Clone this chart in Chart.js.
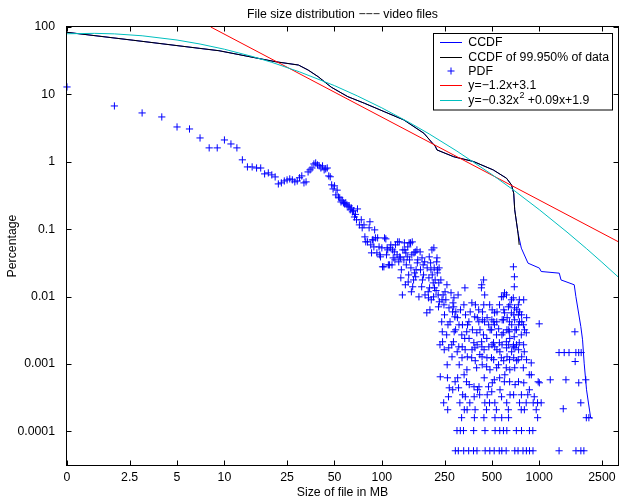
<!DOCTYPE html>
<html><head><meta charset="utf-8">
<script src="https://cdn.jsdelivr.net/npm/chart.js@4.4.0/dist/chart.umd.min.js"></script>
<style>html,body{margin:0;padding:0;background:#fff;}canvas{display:block;}</style>
</head><body>
<canvas id="c" width="623" height="499"></canvas>
<script>
// ---- tick labels ----
const xTickValues = [1, 2.5, 5, 10, 25, 50, 100, 250, 500, 1000, 2500];
const xTickLabels = ['0', '2.5', '5', '10', '25', '50', '100', '250', '500', '1000', '2500'];
const yTickValues = [0.0001, 0.001, 0.01, 0.1, 1, 10, 100];
const yTickLabels = ['0.0001', '0.001', '0.01', '0.1', '1', '10', '100'];

// ---- CCDF (all data) ----
const ccdfSize = [1, 2.63, 6.91, 9.23, 21.0, 29.5, 34.0, 39.4, 47.7, 60.8, 77.5, 103.5, 138, 185, 219, 224, 286, 382, 510, 619, 666, 688, 698, 733, 769, 848, 1002, 1028, 1340, 1374, 1667, 1708, 1836, 1883, 1928, 1996, 2053, 2122, 2183];
const ccdfPct = [83.4, 63.6, 48.3, 44.5, 30.6, 27.3, 23.0, 18.3, 12.8, 9.26, 7.39, 5.55, 4.18, 2.65, 1.68, 1.50, 1.19, 1.01, 0.758, 0.571, 0.455, 0.342, 0.194, 0.0873, 0.0524, 0.0314, 0.0265, 0.0236, 0.0223, 0.0177, 0.0150, 0.0100, 0.0036, 0.00229, 0.00103, 0.000415, 0.000264, 0.000158, 0.000158];

// ---- CCDF of 99.950% of data ----
const ccdf99Size = [1, 2.63, 6.91, 9.23, 21.0, 29.5, 34.0, 39.4, 47.7, 60.8, 77.5, 103.5, 138, 185, 219, 224, 286, 382, 510, 619, 666, 688, 698, 733, 745];
const ccdf99Pct = [83.4, 63.6, 48.3, 44.5, 30.6, 27.3, 23.0, 18.3, 12.8, 9.26, 7.39, 5.55, 4.18, 2.65, 1.68, 1.50, 1.19, 1.01, 0.758, 0.571, 0.455, 0.342, 0.194, 0.0873, 0.0586];

// ---- PDF (size in MB, percentage) ----
const pdfSize = [
  1,2,3,4,5,6,7,8,9,10,11,12,13,14,15,16,17,18,19,20,21,22,23,24,25,26,27,28,29,30,
  31,32,33,34,35,36,37,38,39,40,41,42,43,44,45,46,47,48,49,50,51,52,53,54,55,56,57,58,59,60,
  61,62,63,64,65,66,67,68,69,
  70,72,74,75,77,78,79,81,83,84,85,86,87,88,89,90,91,93,94,96,97,98,100,101,103,
  104,106,108,109,110,112,113,116,117,120,121,125,126,128,129,130,131,132,135,138,139,140,141,142,145,
  148,149,150,152,153,156,157,159,160,161,163,164,168,169,172,175,176,179,180,181,188,193,194,198,199,
  200,201,202,204,208,209,213,214,215,216,218,223,224,225,226,229,230,231,232,
  234,235,240,241,242,243,247,248,252,258,259,260,261,262,265,266,267,268,271,279,285,286,287,288,291,
  292,293,300,306,307,308,309,310,313,315,321,322,323,330,331,332,333,334,336,337,338,339,345,346,347,
  348,356,357,362,372,373,382,383,384,385,386,387,389,390,391,400,401,402,412,413,414,418,429,430,431,
  432,433,435,442,443,444,445,449,450,451,452,453,462,463,464,476,477,483,484,485,497,498,499,500,512,
  517,518,519,520,521,522,523,524,534,535,536,537,557,558,559,560,561,574,575,576,577,578,579,590,591,
  592,593,600,601,602,616,617,618,619,620,621,622,623,636,637,638,645,646,647,648,649,665,666,683,684,
  685,686,687,693,694,695,696,697,698,699,715,716,717,733,735,736,737,738,746,747,748,749,768,769,770,
  771,772,788,792,793,803,804,826,827,828,864,865,866,867,889,890,910,912,915,929,956,975,976,984,999,
  1001,1028,1174,1335,1336,1420,1440,1477,1545,1683,1690,1708,1710,1780,1781,1836,1837,1845,1920,1974,
  1990,2065
];
const pdfPct = [
  12.9,6.74,5.31,4.63,3.29,3.07,2.26,1.61,1.61,2.11,1.84,1.61,1.07,0.84,0.84,0.81,0.81,0.662,0.685,0.64,0.597,0.47,0.487,0.52,0.539,0.558,0.54,0.504,0.52,0.58,
  0.618,0.487,0.504,0.708,0.76,0.81,0.93,0.963,0.90,0.87,0.81,0.87,0.76,0.785,0.81,0.618,0.6,0.455,0.396,0.44,0.323,0.38,0.30,0.292,0.254,0.27,0.246,0.238,0.246,0.23,
  0.215,0.222,0.194,0.207,0.181,0.188,0.152,0.166,0.138,
  0.200,0.116,0.138,0.105,0.116,0.077,0.065,0.065,0.105,0.129,0.0586,0.0446,0.0695,0.0695,0.0547,0.0978,0.0744,0.0446,0.0744,0.0547,0.0417,0.0389,0.0529,0.0277,0.0277,
  0.0744,0.0719,0.0529,0.0494,0.0296,0.0296,0.0529,0.0296,0.0494,0.0461,0.0351,0.0417,0.0649,0.0328,0.0649,0.0389,0.0376,0.019,0.0106,0.0351,0.0628,0.0494,0.015,0.0446,0.0389,
  0.021,0.0628,0.0351,0.0628,0.0267,0.0649,0.014,0.0177,0.0446,0.0225,0.0461,0.0197,0.0317,0.0351,0.00993,0.0461,0.025,0.014,0.0376,0.0177,0.0106,0.00575,0.0267,0.0096,0.019,
  0.0389,0.0135,0.00637,0.0317,0.0494,0.021,0.00993,0.0529,0.0267,0.0135,0.0177,0.0328,0.0376,0.0225,0.025,0.00706,0.016,0.0267,0.00838,
  0.00193,0.000647,0.00423,0.00897,0.00301,0.00214,0.000266,0.00756,0.0118,0.00271,0.015,0.000975,0.000625,0.00021,0.000327,0.00174,0.00682,0.000444,0.00423,0.00128,0.00214,0.00706,0.0096,0.00301,0.00502,
  0.000546,0.0000517,0.000103,0.0000517,0.000444,0.0018,0.00382,0.000975,0.000266,0.000103,0.00016,0.00271,0.00124,0.000103,0.0000517,0.00756,0.000693,0.00021,0.0024,0.0135,0.00163,0.000327,0.000546,0.00301,0.000822,
  0.00021,0.0000517,0.00423,0.000266,0.00124,0.00809,0.0000517,0.000103,0.00207,0.00046,0.000327,0.00016,0.00502,0.00174,0.00021,0.00088,0.00291,0.0000517,0.00637,0.00423,0.00046,0.00035,0.0135,0.00214,0.015,
  0.0018,0.00128,0.00453,0.00271,0.0177,0.00756,0.00016,0.00423,0.0106,0.000266,0.000103,0.0000517,0.00021,0.00091,0.0024,0.00046,0.00382,0.000266,0.00756,0.0000517,0.00124,0.00322,0.000388,0.00453,0.00207,
  0.0000517,0.000584,0.00382,0.00575,0.0018,0.000266,0.00016,0.000103,0.00021,0.00271,0.00088,0.00423,0.0000517,0.00207,0.00756,0.000625,0.000103,0.00124,0.00993,0.000327,0.00016,0.0000517,0.00271,0.01,0.00291,
  0.000103,0.00453,0.000546,0.0114,0.00575,0.0000517,0.00088,0.00214,0.0106,0.00174,0.000266,0.000103,0.00322,0.00021,0.00706,0.00016,0.00301,0.00423,0.00116,0.000546,0.0024,0.00575,0.00897,0.0018,0.0096,
  0.0277,0.00193,0.00035,0.00254,0.014,0.0197,0.00682,0.00453,0.00088,0.0000517,0.000103,0.00322,0.00193,0.0000517,0.00116,0.00756,0.00537,0.000546,0.00207,0.00897,0.00423,0.000266,0.00021,0.00271,0.00035,
  0.000103,0.00537,0.0000517,0.00088,0.00382,0.00152,0.00021,0.000266,0.00291,0.0000517,0.000693,0.000415,0.000103,0.0000517,0.00104,0.000693,0.000103,0.0000517,0.000266,0.000327,0.00021,0.000266,0.00016,0.000546,0.00395,
  0.000527,0.000266,0.000584,0.00148,0.0000517,0.000217,0.00148,0.000584,0.00148,0.00301,0.00109,0.00148,0.0000517,0.00148,0.000527,0.000266,0.0000517,0.00148,0.0000517,0.000584,
  0.00016,0.00016
];
// further PDF readings from the dense core (250-850 MB)
const pdfCoreSize = [
  249,278,301,324,349,358,374,392,403,419,434,446,465,478,486,501,513,538,551,562,580,594,624,639,650,667,688,700,718,739,773,795,830,
  250,263,281,294,302,316,325,340,350,364,376,393,404,420,436,466,487,502,514,539,552,581,595,625,640,651,668,689,701,719,740,750,774,796,806,831,
  282,303,326,359,405,447,467,503,563,604,652,702,797,845
];
const pdfCorePct = [
  0.00163,0.00193,0.00152,0.0018,0.00128,0.0024,0.00163,0.00112,0.00193,0.00138,0.000975,0.00163,0.00124,0.0018,0.000822,0.00193,0.00116,0.00163,0.000975,0.00152,0.00193,0.00112,0.00128,0.00193,0.000822,0.00152,0.00124,0.00174,0.00112,0.00163,0.00128,0.00193,0.00116,
  0.00537,0.00382,0.00594,0.00322,0.00487,0.00637,0.00382,0.00537,0.00382,0.00594,0.00322,0.00756,0.00487,0.00322,0.00594,0.00487,0.00322,0.00637,0.00423,0.00594,0.00333,0.00453,0.00637,0.00487,0.00322,0.00756,0.00382,0.00537,0.00322,0.00637,0.00382,0.00594,0.00423,0.00897,0.00322,0.00487,
  0.000415,0.000625,0.00035,0.000495,0.000415,0.000625,0.00035,0.000527,0.000415,0.000693,0.00035,0.000495,0.000527,0.00035
];
// further PDF readings from the falling band (100-310 MB)
const pdfBandSize = [
  107,114,118,122,133,136,143,146,147,154,155,165,167,183,184,187,197,205,206,212,221,228,237,245,255,275,283,295,305
];
const pdfBandPct = [
  0.0417,0.0586,0.0376,0.0586,0.025,0.0494,0.0296,0.0547,0.0165,0.0118,0.0417,0.025,0.0494,0.0296,0.021,0.0328,0.0118,0.025,0.00897,0.016,0.0123,0.0106,0.0177,0.0106,0.00897,0.0114,0.00809,0.00594,0.0106
];

// ---- fitted curves, values ----
const fit1Size = [8.19, 3162.28];
const fit1Pct = [100, 0.0656];
const fit2Size = [1, 1.5, 2, 3, 5, 7, 10, 15, 20, 30, 50, 70, 100, 150, 200, 300, 500, 700, 1000, 1500, 2000, 2500, 3162.28];
const fit2Pct = [79.4, 80.5, 79.1, 74.1, 64.1, 55.9, 46.8, 36.6, 29.9, 21.6, 13.5, 9.48, 6.31, 3.81, 2.59, 1.44, 0.648, 0.368, 0.195, 0.0907, 0.0513, 0.0324, 0.0197];

const seriesNames = ['CCDF', 'CCDF of 99.950% of data', 'PDF', 'y=\u22121.2x+3.1', 'y=\u22120.32x2 +0.09x+1.9'];
const titleText = 'File size distribution \u2212\u2212\u2212 video files';
const xTitle = 'Size of file in MB';
const yTitle = 'Percentage';

const FONT = '"Liberation Sans", Arial, Helvetica, sans-serif';
const FS = 12.3;
const pts = (xs, ys) => xs.map((x, i) => ({x: x, y: ys[i]}));

const decor = {
  id: 'decor',
  afterDraw(chart) {
    const ctx = chart.ctx, a = chart.chartArea;
    const xs = chart.scales.x, ys = chart.scales.y;
    ctx.save();
    ctx.strokeStyle = '#000';
    ctx.lineWidth = 1;
    const L = Math.round(a.left) - 0.5, R = Math.round(a.right) + 0.5;
    const T = Math.round(a.top) - 0.5, B = Math.round(a.bottom) + 0.5;
    ctx.strokeRect(L, T, R - L, B - T);
    ctx.beginPath();
    xTickValues.forEach(v => {
      const p = Math.round(xs.getPixelForValue(v)) + 0.5;
      ctx.moveTo(p, B); ctx.lineTo(p, B - 5);
      ctx.moveTo(p, T); ctx.lineTo(p, T + 5);
    });
    yTickValues.forEach(v => {
      const p = Math.round(ys.getPixelForValue(v)) + 0.5;
      ctx.moveTo(L, p); ctx.lineTo(L + 5, p);
      ctx.moveTo(R, p); ctx.lineTo(R - 5, p);
    });
    ctx.stroke();

    // titles
    ctx.fillStyle = '#000';
    ctx.font = FS + 'px ' + FONT;
    ctx.textAlign = 'center';
    ctx.textBaseline = 'alphabetic';
    const cx = (a.left + a.right) / 2;
    ctx.fillText(titleText, cx, 17.5);
    ctx.fillText(xTitle, cx, 495.5);
    ctx.save();
    ctx.translate(16.3, (a.top + a.bottom) / 2);
    ctx.rotate(-Math.PI / 2);
    ctx.fillText(yTitle, 0, 0);
    ctx.restore();

    // legend
    const bx = 433.5, by = 33.5, bw = 179, bh = 76.5;
    ctx.fillStyle = '#fff';
    ctx.fillRect(bx, by, bw, bh);
    ctx.strokeStyle = '#000';
    ctx.strokeRect(bx, by, bw, bh);
    const rows = [42.3, 56.7, 71, 85.3, 99.8];
    const cols = ['#0000ff', '#000000', '#0000ff', '#ff0000', '#00bfbf'];
    ctx.textAlign = 'left';
    ctx.textBaseline = 'middle';
    rows.forEach((ry, i) => {
      ctx.strokeStyle = cols[i];
      ctx.lineWidth = 1;
      ctx.beginPath();
      if (i === 2) {
        ctx.moveTo(451, ry - 3.5); ctx.lineTo(451, ry + 3.5);
        ctx.moveTo(447.5, ry); ctx.lineTo(454.5, ry);
      } else {
        ctx.moveTo(440, Math.round(ry) + 0.5); ctx.lineTo(462, Math.round(ry) + 0.5);
      }
      ctx.stroke();
      ctx.fillStyle = '#000';
      ctx.font = FS + 'px ' + FONT;
      if (i === 4) {
        const p1 = 'y=\u22120.32x', p2 = ' +0.09x+1.9';
        let x = 468.3;
        ctx.fillText(p1, x, ry + 0.5); x += ctx.measureText(p1).width;
        ctx.font = '9px ' + FONT;
        ctx.fillText('2', x + 0.5, ry - 4);
        x += ctx.measureText('2').width + 0.5;
        ctx.font = FS + 'px ' + FONT;
        ctx.fillText(p2, x, ry + 0.5);
      } else {
        ctx.fillText(seriesNames[i], 468.3, ry + 0.5);
      }
    });
    ctx.restore();
  }
};

new Chart(document.getElementById('c').getContext('2d'), {
  type: 'scatter',
  data: {
    datasets: [
      {label: seriesNames[0], data: pts(ccdfSize, ccdfPct), showLine: true, borderColor: '#0000ff', borderWidth: 1, pointRadius: 0, tension: 0, order: 5},
      {label: seriesNames[1], data: pts(ccdf99Size, ccdf99Pct), showLine: true, borderColor: '#000000', borderWidth: 1, pointRadius: 0, tension: 0, order: 4},
      {label: seriesNames[2], data: pts(pdfSize.concat(pdfCoreSize, pdfBandSize), pdfPct.concat(pdfCorePct, pdfBandPct)), showLine: false, pointStyle: 'cross', pointRadius: 3.6, borderColor: '#0000ff', backgroundColor: '#0000ff', borderWidth: 1, order: 3, clip: false},
      {label: seriesNames[3], data: pts(fit1Size, fit1Pct), showLine: true, borderColor: '#ff0000', borderWidth: 1, pointRadius: 0, order: 2},
      {label: seriesNames[4], data: pts(fit2Size, fit2Pct), showLine: true, borderColor: '#00bfbf', borderWidth: 1, pointRadius: 0, tension: 0, order: 1}
    ]
  },
  options: {
    responsive: false,
    animation: false,
    devicePixelRatio: 1,
    events: [],
    layout: {padding: {top: 27, right: 1, left: 0, bottom: 0}},
    plugins: {legend: {display: false}, tooltip: {enabled: false}, title: {display: false}},
    scales: {
      x: {
        type: 'logarithmic', min: 1, max: 3162.28, position: 'bottom',
        grid: {display: false}, border: {display: false},
        afterBuildTicks: s => { s.ticks = xTickValues.map(v => ({value: v})); },
        afterFit: s => { s.height = 34; },
        ticks: {autoSkip: false, maxRotation: 0, minRotation: 0, padding: -3, color: '#000',
          font: {family: FONT, size: FS},
          callback: (v, i) => xTickLabels[i]}
      },
      y: {
        type: 'logarithmic', min: 3.18e-5, max: 100, position: 'left',
        grid: {display: false}, border: {display: false},
        afterBuildTicks: s => { s.ticks = yTickValues.map(v => ({value: v})); },
        afterFit: s => { s.width = 67; },
        ticks: {autoSkip: false, padding: 4, color: '#000',
          font: {family: FONT, size: FS},
          callback: (v, i) => yTickLabels[i]}
      }
    }
  },
  plugins: [decor]
});
</script>
</body></html>
